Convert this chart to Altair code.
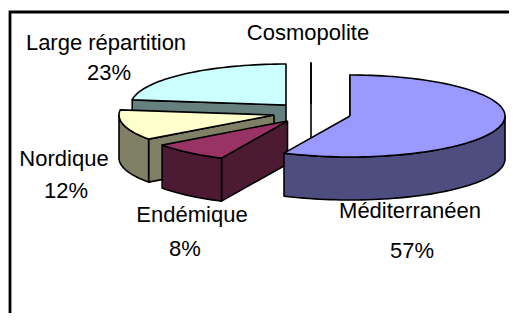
import math
import altair as alt
import pandas as pd

# Data
categories = ["Méditerranéen", "Endémique", "Nordique", "Large répartition", "Cosmopolite"]
shares = [57, 8, 12, 23, 0]

# Styles and layout (pixels of the page, minus the 8px margin)
top_colors = ["#9999ff", "#993366", "#ffffcc", "#ccffff", "#ffffff"]
wall_colors = ["#4d4d80", "#4d1a33", "#808066", "#668080", "#808080"]
centres = [(342, 108), (279.5, 113), (266, 107), (278, 97), (303, 96)]
label_pos = [(402, 203), (184, 207), (56, 151), (98, 35), (300, 25)]
share_pos = [(404, 243), (177, 241), (58, 183), (101, 65), None]
draw_order = [4, 3, 2, 1, 0]
RX, RY, DEPTH = 155, 41, 43
W, H = 501, 305


def pt(c, deg, dz=0):
    t = math.radians(deg)
    return c[0] + RX * math.sin(t), c[1] - RY * math.cos(t) + dz


def arc(c, a, b, dz=0):
    n = max(2, int(abs(b - a) / 2) + 2)
    return [pt(c, a + (b - a) * i / (n - 1), dz) for i in range(n)]


x_scale = alt.Scale(domain=[0, W], range=[0, W], nice=False, zero=False)
y_scale = alt.Scale(domain=[0, H], range=[0, H], nice=False, zero=False)


def poly(points, fill, sw=1.6):
    pts = list(points) + [points[0]]
    df = pd.DataFrame({"x": [p[0] for p in pts], "y": [p[1] for p in pts], "i": range(len(pts))})
    return alt.Chart(df).mark_line(fill=fill, stroke="black", strokeWidth=sw, strokeJoin="round", clip=False).encode(
        x=alt.X("x:Q", scale=x_scale, axis=None),
        y=alt.Y("y:Q", scale=y_scale, axis=None),
        order=alt.Order("i:Q"),
    )


layers = []

# start angle of each slice, clockwise from twelve o'clock
starts = []
acc = 0
for v in shares:
    starts.append(acc * 3.6)
    acc += v

for k in draw_order:
    c = centres[k]
    a, b = starts[k], starts[k] + shares[k] * 3.6
    apex = c
    # radial face on the slice's starting edge
    s = pt(c, a)
    layers.append(poly([apex, s, (s[0], s[1] + DEPTH), (apex[0], apex[1] + DEPTH)], wall_colors[k]))
    # outer wall: the part of the rim on the near side of the ellipse
    lo, hi = max(a, 90), min(b, 270)
    if hi > lo:
        layers.append(poly(arc(c, lo, hi) + arc(c, hi, lo, DEPTH), wall_colors[k]))
    # top face
    layers.append(poly([apex] + arc(c, a, b), top_colors[k]))

# Frame
frame = pd.DataFrame({"x": [2, 2, W], "y": [H, 4, 4], "i": [0, 1, 2]})
layers.append(
    alt.Chart(frame).mark_line(stroke="black", strokeWidth=2.8, clip=False).encode(
        x=alt.X("x:Q", scale=x_scale, axis=None),
        y=alt.Y("y:Q", scale=y_scale, axis=None),
        order=alt.Order("i:Q"),
    )
)

# Labels
rows = []
for k, name in enumerate(categories):
    rows.append({"x": label_pos[k][0], "y": label_pos[k][1], "t": name})
    if share_pos[k]:
        rows.append({"x": share_pos[k][0], "y": share_pos[k][1], "t": f"{shares[k]}%"})
layers.append(
    alt.Chart(pd.DataFrame(rows)).mark_text(font="Liberation Sans", fontSize=22, color="black", align="center", baseline="middle").encode(
        x=alt.X("x:Q", scale=x_scale, axis=None),
        y=alt.Y("y:Q", scale=y_scale, axis=None),
        text="t:N",
    )
)

chart = (
    alt.layer(*layers)
    .properties(width=W, height=H, padding=0, background="white", autosize=alt.AutoSizeParams(type="none"))
    .configure_view(stroke=None)
)
chart.save("out.html", embed_options={"renderer": "svg", "actions": False})
